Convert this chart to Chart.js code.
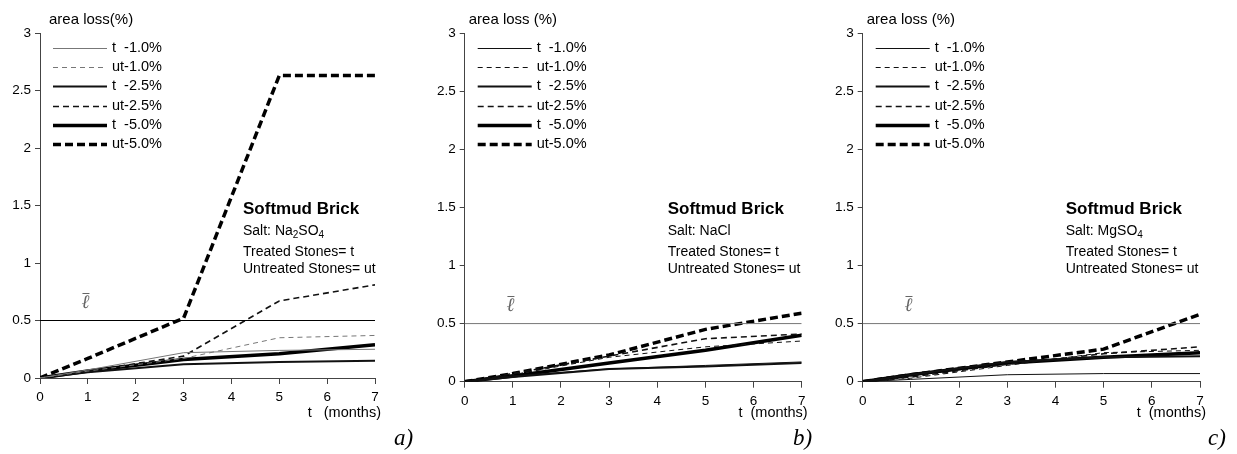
<!DOCTYPE html>
<html>
<head>
<meta charset="utf-8">
<script src="https://cdn.jsdelivr.net/npm/chart.js@4/dist/chart.umd.min.js"></script>
<style>
  body { margin: 0; background: #fff; width: 1237px; height: 454px; position: relative; overflow: hidden; }
  canvas { position: absolute; top: 0; }
</style>
</head>
<body>
<canvas id="chartA" width="420" height="454" style="left:0px"></canvas>
<canvas id="chartB" width="420" height="454" style="left:410px"></canvas>
<canvas id="chartC" width="417" height="454" style="left:820px"></canvas>
<script>
// months of exposure
const months = [0, 1, 3, 5, 7];
const seriesNames = ['t  -1.0%', 'ut-1.0%', 't  -2.5%', 'ut-2.5%', 't  -5.0%', 'ut-5.0%'];
const limitValue = 0.5; // l-bar threshold
const xMax = 7;
const yMax = 3;

// a) Na2SO4
const naSo4T10 = [0, 0.07, 0.22, 0.24, 0.25];
const naSo4Ut10 = [0, 0.06, 0.17, 0.35, 0.37];
const naSo4T25 = [0, 0.05, 0.12, 0.14, 0.15];
const naSo4Ut25 = [0, 0.06, 0.19, 0.67, 0.81];
const naSo4T50 = [0, 0.06, 0.16, 0.21, 0.29];
const naSo4Ut50 = [0, 0.17, 0.52, 2.63, 2.63];

// b) NaCl
const naClT10 = [0, 0.05, 0.11, 0.14, 0.17];
const naClUt10 = [0, 0.06, 0.21, 0.30, 0.35];
const naClT25 = [0, 0.04, 0.11, 0.13, 0.16];
const naClUt25 = [0, 0.07, 0.22, 0.37, 0.41];
const naClT50 = [0, 0.05, 0.16, 0.27, 0.40];
const naClUt50 = [0, 0.07, 0.23, 0.45, 0.59];

// c) MgSO4
const mgSo4T10 = [0, 0.02, 0.06, 0.07, 0.07];
const mgSo4Ut10 = [0, 0.03, 0.14, 0.25, 0.27];
const mgSo4T25 = [0, 0.06, 0.17, 0.21, 0.22];
const mgSo4Ut25 = [0, 0.04, 0.15, 0.24, 0.30];
const mgSo4T50 = [0, 0.06, 0.16, 0.21, 0.25];
const mgSo4Ut50 = [0, 0.06, 0.17, 0.28, 0.58];

// line look for each series, in seriesNames order
const lineWidths = [1, 1, 2, 1.6, 3.5, 3.5];
const lineDashes = [[], [5, 4], [], [6, 4], [], [8, 4]];

const FONT = '"Liberation Sans", Arial, sans-serif';

function pts(vals) {
  return months.map((m, i) => ({ x: m, y: vals[i] }));
}

function drawSub(ctx, parts, x, y) {
  // parts: [text, isSub]
  parts.forEach(([txt, sub]) => {
    ctx.font = (sub ? '10px ' : '14px ') + FONT;
    ctx.fillText(txt, x, sub ? y + 4 : y);
    x += ctx.measureText(txt).width;
  });
}

const panelDecor = {
  id: 'panelDecor',
  afterDatasetsDraw(chart, args, o) {
    const ctx = chart.ctx, a = chart.chartArea;
    const xs = chart.scales.x, ys = chart.scales.y;
    ctx.save();
    ctx.fillStyle = '#000';
    ctx.textBaseline = 'middle';
    ctx.textAlign = 'left';

    // y title
    ctx.font = '15px ' + FONT;
    ctx.fillText(o.yTitle, a.left + o.yTitleDx, 20);

    // legend
    let row = 0;
    chart.data.datasets.forEach(ds => {
      if (ds.noLegend) return;
      const y = 48 + row * 19.2;
      ctx.beginPath();
      ctx.strokeStyle = ds.borderColor;
      ctx.lineWidth = ds.borderWidth;
      ctx.setLineDash(ds.borderDash || []);
      ctx.moveTo(a.left + 13, Math.round(y) + 0.5);
      ctx.lineTo(a.left + 67, Math.round(y) + 0.5);
      ctx.stroke();
      ctx.setLineDash([]);
      ctx.font = '14.5px ' + FONT;
      ctx.fillText(ds.label, a.left + 72, y);
      row++;
    });

    // l-bar label over the limit line
    const lx = xs.getPixelForValue(0.95);
    const ly = ys.getPixelForValue(limitValue) - 20;
    ctx.fillStyle = '#666';
    ctx.strokeStyle = '#666';
    ctx.lineWidth = 1;
    ctx.font = 'italic 19px "Liberation Serif", "DejaVu Serif", serif';
    ctx.textAlign = 'center';
    ctx.fillText('\u2113', lx, ly + 2);
    ctx.beginPath();
    ctx.moveTo(lx - 3, Math.round(ly - 8) + 0.5);
    ctx.lineTo(lx + 4, Math.round(ly - 8) + 0.5);
    ctx.stroke();

    // annotation block
    ctx.fillStyle = '#000';
    ctx.textAlign = 'left';
    const bx = a.left + 203;
    ctx.font = 'bold 17px ' + FONT;
    ctx.fillText('Softmud Brick', bx, 209);
    drawSub(ctx, o.salt, bx, 231);
    ctx.font = '14px ' + FONT;
    ctx.fillText('Treated Stones= t', bx, 252);
    ctx.fillText('Untreated Stones= ut', bx, 269);

    // x title
    ctx.textAlign = 'right';
    ctx.font = '14.5px ' + FONT;
    ctx.fillText(o.xTitle, a.right + 6, 413);

    // panel letter
    ctx.textAlign = 'left';
    ctx.font = 'italic 23px "Liberation Serif", "DejaVu Serif", serif';
    ctx.fillText(o.letter, o.letterX, 439);
    ctx.restore();
  }
};

function makePanel(id, vals, pad, xAxisH, colors, limitColor, decor) {
  const datasets = vals.map((v, i) => ({
    label: seriesNames[i],
    data: pts(v),
    borderColor: colors[i],
    borderWidth: lineWidths[i],
    borderDash: lineDashes[i],
    pointRadius: 0,
    tension: 0,
    fill: false
  }));
  datasets.unshift({
    label: 'limit',
    noLegend: true,
    data: [{ x: 0, y: limitValue }, { x: xMax, y: limitValue }],
    borderColor: limitColor,
    borderWidth: 1,
    pointRadius: 0
  });
  return new Chart(document.getElementById(id), {
    type: 'line',
    data: { datasets: datasets },
    options: {
      responsive: false,
      animation: false,
      events: [],
      layout: { padding: pad },
      plugins: {
        legend: { display: false },
        tooltip: { enabled: false },
        panelDecor: decor
      },
      scales: {
        x: {
          type: 'linear',
          min: 0,
          max: xMax,
          afterFit: s => { s.height = xAxisH; },
          ticks: { stepSize: 1, color: '#000', padding: 5, maxRotation: 0, font: { family: FONT, size: 13.5 } },
          grid: { drawOnChartArea: false, drawTicks: true, tickLength: 6, color: '#444' },
          border: { color: '#444' }
        },
        y: {
          min: 0,
          max: yMax,
          afterFit: s => { s.width = 40; },
          ticks: {
            stepSize: 0.5, color: '#000', padding: 4, font: { family: FONT, size: 13.5 },
            callback: v => String(v)
          },
          grid: { drawOnChartArea: false, drawTicks: true, tickLength: 5, color: '#444' },
          border: { color: '#444' }
        }
      }
    },
    plugins: [panelDecor]
  });
}

const greyThin = ['#777', '#777', '#111', '#111', '#000', '#000'];
const blackAll = ['#111', '#111', '#111', '#111', '#000', '#000'];

makePanel('chartA',
  [naSo4T10, naSo4Ut10, naSo4T25, naSo4Ut25, naSo4T50, naSo4Ut50],
  { left: 0, right: 45, top: 33, bottom: 0 }, 76, greyThin, '#000',
  { yTitle: 'area loss(%)', yTitleDx: 9, xTitle: 't   (months)', letter: 'a)', letterX: 394,
    salt: [['Salt: Na', false], ['2', true], ['SO', false], ['4', true]] });

makePanel('chartB',
  [naClT10, naClUt10, naClT25, naClUt25, naClT50, naClUt50],
  { left: 14.7, right: 28.3, top: 33, bottom: 0 }, 72.3, blackAll, '#777',
  { yTitle: 'area loss (%)', yTitleDx: 4, xTitle: 't  (months)', letter: 'b)', letterX: 383,
    salt: [['Salt: NaCl', false]] });

makePanel('chartC',
  [mgSo4T10, mgSo4Ut10, mgSo4T25, mgSo4Ut25, mgSo4T50, mgSo4Ut50],
  { left: 2.7, right: 37, top: 33, bottom: 0 }, 72.3, blackAll, '#777',
  { yTitle: 'area loss (%)', yTitleDx: 4, xTitle: 't  (months)', letter: 'c)', letterX: 388,
    salt: [['Salt: MgSO', false], ['4', true]] });
</script>
</body>
</html>
